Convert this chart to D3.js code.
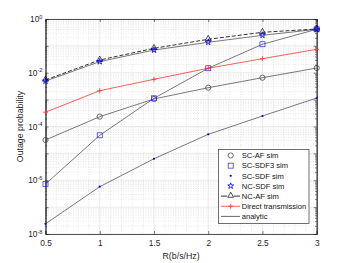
<!DOCTYPE html>
<html><head><meta charset="utf-8">
<script src="https://cdn.jsdelivr.net/npm/d3@7/dist/d3.min.js"></script>
<style>body{margin:0;background:#fff}svg{display:block}text{font-family:"Liberation Sans",Arial,sans-serif}</style>
</head><body><svg id="c" width="350" height="263"></svg>
<script>
const R = [0.5, 1, 1.5, 2, 2.5, 3];
const scAF   = [3.15e-5, 2.32e-4, 1.06e-3, 2.78e-3, 6.55e-3, 1.5e-2];
const scSDF3 = [7.2e-7, 4.7e-5, 1.12e-3, 1.47e-2, 1.15e-1, 4.14e-1];
const scSDF  = [2.4e-8, 5.75e-7, 6.3e-6, 5.1e-5, 2.46e-4, 1.15e-3];
const ncSDF  = [4.9e-3, 2.6e-2, 7.0e-2, 1.36e-1, 2.47e-1, 4.14e-1];
const ncAF   = [5.4e-3, 2.98e-2, 8.1e-2, 1.76e-1, 3.2e-1, 4.25e-1];
const direct = [3.4e-4, 2.15e-3, 5.7e-3, 1.47e-2, 3.33e-2, 7.46e-2];
const xTicks = [0.5, 1, 1.5, 2, 2.5, 3];
const yTickExp = [0, -2, -4, -6, -8];
const legendLabels = ["SC-AF sim","SC-SDF3 sim","SC-SDF sim","NC-SDF sim","NC-AF sim","Direct transmission","analytic"];

const svg = d3.select("#c");
const L = 45.5, Rt = 316.7, T = 19, B = 234;
const x = d3.scaleLinear().domain([0.5, 3]).range([L, Rt]);
const y = d3.scaleLog().domain([1e-8, 1]).range([B, T]);
const axisCol = "#262626";

// grid
const g = svg.append("g");
const minorX = d3.range(5, 31).map(v => v / 10).filter(v => !xTicks.some(t => Math.abs(t - v) < 1e-9));
g.selectAll(".mx").data(minorX).join("line")
  .attr("x1", d => x(d)).attr("x2", d => x(d)).attr("y1", T).attr("y2", B)
  .attr("stroke", "#d0d0d0").attr("stroke-width", 0.5).attr("stroke-dasharray", "1,1.5");
const minorY = [];
for (let e = -8; e < 0; e++) for (let m = 2; m <= 9; m++) minorY.push(m * Math.pow(10, e));
g.selectAll(".my").data(minorY).join("line")
  .attr("x1", L).attr("x2", Rt).attr("y1", d => y(d)).attr("y2", d => y(d))
  .attr("stroke", "#d0d0d0").attr("stroke-width", 0.5).attr("stroke-dasharray", "1,1.5");
g.selectAll(".gx").data(xTicks).join("line")
  .attr("x1", d => x(d)).attr("x2", d => x(d)).attr("y1", T).attr("y2", B)
  .attr("stroke", "#e3e3e3").attr("stroke-width", 0.7);
const decades = d3.range(-8, 1).map(e => Math.pow(10, e));
g.selectAll(".gy").data(decades).join("line")
  .attr("x1", L).attr("x2", Rt).attr("y1", d => y(d)).attr("y2", d => y(d))
  .attr("stroke", "#e3e3e3").attr("stroke-width", 0.7);

// axes
const xAxB = d3.axisBottom(x).tickValues(xTicks).tickSize(-3).tickPadding(6).tickFormat(d3.format(""));
const xAxT = d3.axisTop(x).tickValues(xTicks).tickSize(-3).tickFormat("");
const ax1 = svg.append("g").attr("transform", `translate(0,${B})`).call(xAxB);
const ax2 = svg.append("g").attr("transform", `translate(0,${T})`).call(xAxT);
const yAxL = d3.axisLeft(y).tickValues(decades).tickSize(-3).tickFormat("");
const yAxR = d3.axisRight(y).tickValues(decades).tickSize(-3).tickFormat("");
const ay1 = svg.append("g").attr("transform", `translate(${L},0)`).call(yAxL);
const ay2 = svg.append("g").attr("transform", `translate(${Rt},0)`).call(yAxR);
const yMinL = d3.axisLeft(y).tickValues(minorY).tickSize(-1.6).tickFormat("");
const yMinR = d3.axisRight(y).tickValues(minorY).tickSize(-1.6).tickFormat("");
const ay3 = svg.append("g").attr("transform", `translate(${L},0)`).call(yMinL);
const ay4 = svg.append("g").attr("transform", `translate(${Rt},0)`).call(yMinR);
[ax1, ax2, ay1, ay2, ay3, ay4].forEach(a => {
  a.selectAll("path").attr("stroke", axisCol).attr("stroke-width", 0.8);
  a.selectAll("line").attr("stroke", axisCol).attr("stroke-width", 0.6);
});
ax1.selectAll("text").attr("fill", axisCol).style("font-size", "8.3px").attr("font-family", "Liberation Sans, Arial");

// y labels with superscripts
const yl = svg.append("g");
yTickExp.forEach(e => {
  const t = yl.append("text").attr("x", L - 3).attr("y", y(Math.pow(10, e)) + 3)
    .attr("text-anchor", "end").attr("fill", axisCol).style("font-size", "8.3px");
  t.append("tspan").text("10");
  t.append("tspan").attr("dy", -3.5).style("font-size", "5.7px").text(String(e));
});

svg.append("text").attr("x", (L + Rt) / 2).attr("y", 259).attr("text-anchor", "middle")
  .attr("fill", axisCol).style("font-size", "8.8px").text("R(b/s/Hz)");
svg.append("text").attr("transform", `translate(23,${(T + B) / 2}) rotate(-90)`).attr("text-anchor", "middle")
  .attr("fill", axisCol).style("font-size", "8.8px").text("Outage probability");

// lines
const line = d3.line().x((d, i) => x(R[i])).y(d => y(d));
const lc = "#404040";
const plot = svg.append("g");
[scAF, scSDF3, scSDF, ncSDF].forEach(s => {
  plot.append("path").datum(s).attr("d", line).attr("fill", "none").attr("stroke", lc).attr("stroke-width", 0.7);
});
plot.append("path").datum(ncAF).attr("d", line).attr("fill", "none").attr("stroke", "#000").attr("stroke-width", 0.8).attr("stroke-dasharray", "4,2");
plot.append("path").datum(direct).attr("d", line).attr("fill", "none").attr("stroke", "#ff3333").attr("stroke-width", 0.8);

// markers
function circle(sel, cx, cy) { sel.append("circle").attr("cx", cx).attr("cy", cy).attr("r", 2.6).attr("fill", "none").attr("stroke", "#333").attr("stroke-width", 0.7); }
function square(sel, cx, cy) { sel.append("rect").attr("x", cx - 2.5).attr("y", cy - 2.5).attr("width", 5).attr("height", 5).attr("fill", "none").attr("stroke", "#2020ff").attr("stroke-width", 0.7); }
function dot(sel, cx, cy) { sel.append("circle").attr("cx", cx).attr("cy", cy).attr("r", 1.1).attr("fill", "#0000ff"); }
function star(sel, cx, cy) { sel.append("path").attr("d", d3.symbol(d3.symbolStar, 11)()).attr("transform", `translate(${cx},${cy})`).attr("fill", "none").attr("stroke", "#0000ff").attr("stroke-width", 0.8); }
function tri(sel, cx, cy) { sel.append("path").attr("d", d3.symbol(d3.symbolTriangle, 15)()).attr("transform", `translate(${cx},${cy - 0.5})`).attr("fill", "none").attr("stroke", "#000").attr("stroke-width", 0.7); }
function plus(sel, cx, cy) { sel.append("path").attr("d", `M${cx - 2.5},${cy}H${cx + 2.5}M${cx},${cy - 2.5}V${cy + 2.5}`).attr("stroke", "#ff3333").attr("stroke-width", 0.8); }
const mk = svg.append("g");
R.forEach((r, i) => {
  circle(mk, x(r), y(scAF[i]));
  square(mk, x(r), y(scSDF3[i]));
  dot(mk, x(r), y(scSDF[i]));
  tri(mk, x(r), y(ncAF[i]));
  star(mk, x(r), y(ncSDF[i]));
  plus(mk, x(r), y(direct[i]));
});

// legend
const lg = svg.append("g");
lg.append("rect").attr("x", 218.5).attr("y", 149.5).attr("width", 90.5).attr("height", 74)
  .attr("fill", "#fff").attr("stroke", "#333").attr("stroke-width", 0.7);
const ly0 = 155.5, ldy = 10.15, mx = 230.7;
legendLabels.forEach((lab, i) => {
  const yy = ly0 + i * ldy;
  if (i === 0) circle(lg, mx, yy);
  if (i === 1) square(lg, mx, yy);
  if (i === 2) dot(lg, mx, yy);
  if (i === 3) star(lg, mx, yy);
  if (i === 4) { lg.append("line").attr("x1", 221).attr("x2", 240).attr("y1", yy).attr("y2", yy).attr("stroke", "#000").attr("stroke-width", 0.8).attr("stroke-dasharray", "6,7,6"); tri(lg, mx, yy); }
  if (i === 5) { lg.append("line").attr("x1", 221).attr("x2", 240).attr("y1", yy).attr("y2", yy).attr("stroke", "#ff3333").attr("stroke-width", 0.8); plus(lg, mx, yy); }
  if (i === 6) lg.append("line").attr("x1", 221).attr("x2", 240).attr("y1", yy).attr("y2", yy).attr("stroke", lc).attr("stroke-width", 0.8);
  lg.append("text").attr("x", 241.7).attr("y", yy + 2.8).attr("fill", "#111").style("font-size", "7.6px").text(lab);
});
</script></body></html>
